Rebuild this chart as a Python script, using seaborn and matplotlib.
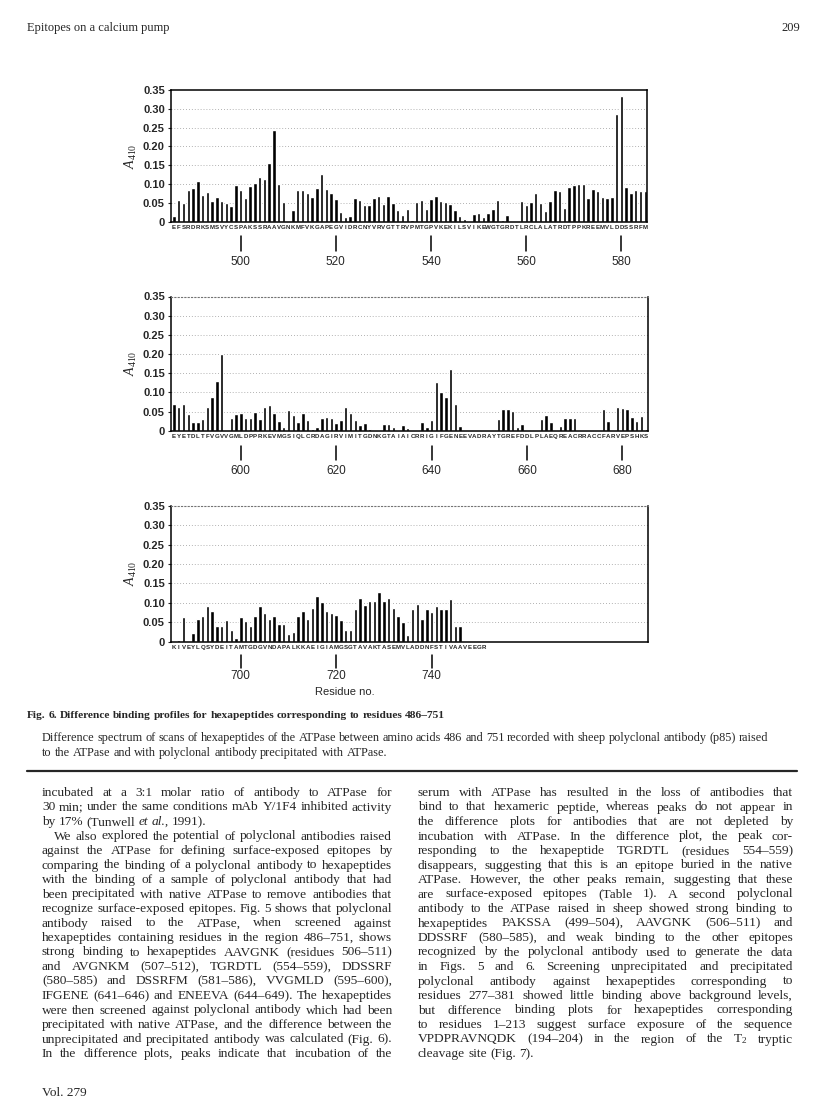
import numpy as np
import pandas as pd
import seaborn as sns
import matplotlib.pyplot as plt
import matplotlib.transforms as mtransforms

W, H = 816, 1108

# Sequence letters printed under each panel (one per hexapeptide start)
seq1 = "EFSRDRKSMSVYCSPAKSSRAAVGNKMFVKGAPEGVIDRCNYVRVGTTRVPMTGPVKEKILSVIKEWGTGRDTLRCLALATRDTPPKREEMVLDDSSRFM"
seq2 = "EYETDLTFVGVVGMLDPPRKEVMGSIQLCRDAGIRVIMITGDNKGTAIAICRRIGIFGENEEVADRAYTGREFDDLPLAEQREACRRACCFARVEPSHKS"
seq3 = "KIVEYLQSYDEITAMTGDGVNDAPALKKAEIGIAMGSGTAVAKTASEMVLADDNFSTIVAAVEEGR"
start1, start2, start3 = 486, 586, 686

# Difference A410 for each hexapeptide
a410_1 = [0.015, 0.058, 0.049, 0.085, 0.090, 0.108, 0.072, 0.078, 0.054, 0.065,
          0.055, 0.050, 0.042, 0.098, 0.085, 0.064, 0.095, 0.102, 0.118, 0.113,
          0.157, 0.243, 0.100, 0.053, 0.003, 0.030, 0.085, 0.083, 0.076, 0.065,
          0.089, 0.126, 0.086, 0.075, 0.059, 0.027, 0.012, 0.015, 0.064, 0.058,
          0.044, 0.044, 0.063, 0.068, 0.047, 0.068, 0.051, 0.030, 0.017, 0.033,
          0.005, 0.052, 0.057, 0.033, 0.059, 0.068, 0.056, 0.053, 0.047, 0.030,
          0.015, 0.006, 0.002, 0.021, 0.023, 0.012, 0.023, 0.035, 0.057, 0.004,
          0.019, 0.0, 0.0, 0.054, 0.045, 0.053, 0.075, 0.049, 0.029, 0.056,
          0.084, 0.081, 0.036, 0.093, 0.097, 0.101, 0.099, 0.063, 0.086, 0.082,
          0.066, 0.062, 0.066, 0.285, 0.334, 0.091, 0.077, 0.084, 0.081, 0.081]
a410_2 = [0.069, 0.063, 0.070, 0.043, 0.023, 0.023, 0.031, 0.062, 0.089, 0.129,
          0.201, 0.002, 0.032, 0.044, 0.046, 0.034, 0.034, 0.050, 0.030, 0.063,
          0.067, 0.045, 0.024, 0.010, 0.053, 0.042, 0.022, 0.045, 0.027, 0.004,
          0.010, 0.032, 0.036, 0.032, 0.021, 0.027, 0.063, 0.045, 0.028, 0.015,
          0.019, 0.004, 0.0, 0.0, 0.017, 0.017, 0.010, 0.002, 0.015, 0.008,
          0.0, 0.002, 0.023, 0.010, 0.028, 0.126, 0.102, 0.088, 0.161, 0.070,
          0.012, 0.003, 0.0, 0.0, 0.0, 0.0, 0.0, 0.002, 0.030, 0.057,
          0.057, 0.052, 0.010, 0.017, 0.002, 0.002, 0.0, 0.030, 0.041, 0.022,
          0.001, 0.013, 0.034, 0.032, 0.032, 0.0, 0.0, 0.0, 0.0, 0.0,
          0.056, 0.026, 0.0, 0.061, 0.058, 0.056, 0.036, 0.025, 0.038, 0.005]
a410_3 = [0.0, 0.004, 0.063, 0.003, 0.022, 0.058, 0.067, 0.091, 0.079, 0.041,
          0.041, 0.056, 0.029, 0.010, 0.064, 0.053, 0.041, 0.066, 0.091, 0.073,
          0.059, 0.067, 0.046, 0.046, 0.020, 0.025, 0.066, 0.079, 0.059, 0.088,
          0.117, 0.102, 0.078, 0.073, 0.069, 0.057, 0.030, 0.030, 0.085, 0.112,
          0.094, 0.105, 0.104, 0.128, 0.104, 0.113, 0.087, 0.067, 0.050, 0.017,
          0.083, 0.097, 0.058, 0.083, 0.077, 0.091, 0.083, 0.083, 0.109, 0.041,
          0.041]

ticks1 = [500, 520, 540, 560, 580]
ticks2 = [600, 620, 640, 660, 680]
ticks3 = [700, 720, 740]
yticks = [0, 0.05, 0.10, 0.15, 0.20, 0.25, 0.30, 0.35]
ytick_labels = ["0", "0.05", "0.10", "0.15", "0.20", "0.25", "0.30", "0.35"]

header = "Epitopes on a calcium pump"
page_no = "209"
fig_title = "Fig. 6. Difference binding profiles for hexapeptides corresponding to residues 486\u2013751"
fig_legend = ["Difference spectrum of scans of hexapeptides of the ATPase between amino acids 486 and 751 recorded with sheep polyclonal antibody (p85) raised",
              "to the ATPase and with polyclonal antibody precipitated with ATPase."]
footer = "Vol. 279"

# body text, (line, justified)
left_col = [
    ("incubated at a 3:1 molar ratio of antibody to ATPase for", True),
    ("30 min; under the same conditions mAb Y/1F4 inhibited activity", True),
    ("by 17% (Tunwell *et *al., 1991).", False),
    ("We also explored the potential of polyclonal antibodies raised", True),
    ("against the ATPase for defining surface-exposed epitopes by", True),
    ("comparing the binding of a polyclonal antibody to hexapeptides", True),
    ("with the binding of a sample of polyclonal antibody that had", True),
    ("been precipitated with native ATPase to remove antibodies that", True),
    ("recognize surface-exposed epitopes. Fig. 5 shows that polyclonal", True),
    ("antibody raised to the ATPase, when screened against", True),
    ("hexapeptides containing residues in the region 486\u2013751, shows", True),
    ("strong binding to hexapeptides AAVGNK (residues 506\u2013511)", True),
    ("and AVGNKM (507\u2013512), TGRDTL (554\u2013559), DDSSRF", True),
    ("(580\u2013585) and DSSRFM (581\u2013586), VVGMLD (595\u2013600),", True),
    ("IFGENE (641\u2013646) and ENEEVA (644\u2013649). The hexapeptides", True),
    ("were then screened against polyclonal antibody which had been", True),
    ("precipitated with native ATPase, and the difference between the", True),
    ("unprecipitated and precipitated antibody was calculated (Fig. 6).", True),
    ("In the difference plots, peaks indicate that incubation of the", True),
]
right_col = [
    ("serum with ATPase has resulted in the loss of antibodies that", True),
    ("bind to that hexameric peptide, whereas peaks do not appear in", True),
    ("the difference plots for antibodies that are not depleted by", True),
    ("incubation with ATPase. In the difference plot, the peak cor-", True),
    ("responding to the hexapeptide TGRDTL (residues 554\u2013559)", True),
    ("disappears, suggesting that this is an epitope buried in the native", True),
    ("ATPase. However, the other peaks remain, suggesting that these", True),
    ("are surface-exposed epitopes (Table 1). A second polyclonal", True),
    ("antibody to the ATPase raised in sheep showed strong binding to", True),
    ("hexapeptides PAKSSA (499\u2013504), AAVGNK (506\u2013511) and", True),
    ("DDSSRF (580\u2013585), and weak binding to the other epitopes", True),
    ("recognized by the polyclonal antibody used to generate the data", True),
    ("in Figs. 5 and 6. Screening unprecipitated and precipitated", True),
    ("polyclonal antibody against hexapeptides corresponding to", True),
    ("residues 277\u2013381 showed little binding above background levels,", True),
    ("but difference binding plots for hexapeptides corresponding", True),
    ("to residues 1\u2013213 suggest surface exposure of the sequence", True),
    ("VPDPRAVNQDK (194\u2013204) in the region of the T$_2$ tryptic", True),
    ("cleavage site (Fig. 7).", False),
]

sns.set_style("white")
plt.rcParams["font.family"] = ["Liberation Sans", "DejaVu Sans"]
plt.rcParams["mathtext.fontset"] = "custom"
plt.rcParams["mathtext.rm"] = "Liberation Serif"
plt.rcParams["mathtext.it"] = "Liberation Serif:italic"
serif = ["Liberation Serif", "DejaVu Serif"]

fig = plt.figure(figsize=(W / 100, H / 100), dpi=100)
fig.patch.set_facecolor("white")
R = fig.canvas.get_renderer()
ident = mtransforms.IdentityTransform()


def px_axes(left, right, top, bottom):
    return fig.add_axes([left / W, 1 - bottom / H, (right - left) / W, (bottom - top) / H])


# seq, first residue, values, number ticks, box (px), tick/label offsets (px below axis), dotted top?
panels = [
    (seq1, start1, a410_1, ticks1, (171, 647, 90, 221.7), (14, 29, 34), False),
    (seq2, start2, a410_2, ticks2, (171, 648, 296.5, 430.7), (15, 29, 34), True),
    (seq3, start3, a410_3, ticks3, (171, 648, 505.7, 641.7), (13, 26, 28), True),
]

for seq, start, vals, ticks, box, offs, dotted_top in panels:
    ax = px_axes(*box)
    df = pd.DataFrame({"residue": start + np.arange(len(vals)), "A410": vals})
    sns.barplot(data=df, x="residue", y="A410", native_scale=True, color="black",
                saturation=1, width=0.72, errorbar=None, ax=ax)
    ax.set_xlim(start - 0.63, start + 99.37)
    ax.set_ylim(0, 0.35)
    for y in yticks[1:-1]:
        ax.axhline(y, color="0.6", lw=0.6, ls=(0, (1, 2.5)), zorder=0)
    ax.set_yticks(yticks, ytick_labels)
    ax.tick_params(axis="y", left=True, length=2.5, width=0.8, labelsize=8, pad=2)
    for lab in ax.get_yticklabels():
        lab.set_fontweight("bold")
    ax.set_xticks(start + np.arange(len(seq)), list(seq))
    ax.tick_params(axis="x", length=0, pad=2.5, labelsize=4.4)
    for lab in ax.get_xticklabels():
        lab.set_fontweight("bold")
    for sp in ax.spines.values():
        sp.set_color("black")
        sp.set_linewidth(1.1)
    if dotted_top:
        ax.spines["top"].set_color("0.45")
        ax.spines["top"].set_linestyle((0, (1, 2)))
        ax.spines["top"].set_linewidth(0.8)
    ax.set_xlabel("")
    ax.set_ylabel(r"$A_{410}$", fontsize=10)
    ax.yaxis.set_label_coords(-32 / (box[1] - box[0]), 0.5)

    # residue number marks under the sequence
    trans = mtransforms.blended_transform_factory(ax.transData, ax.transAxes)
    h = box[3] - box[2]
    for r in ticks:
        ax.plot([r, r], [-offs[0] / h, -offs[1] / h], transform=trans, color="black", lw=1.1, clip_on=False)
        ax.text(r, -offs[2] / h, str(r), transform=trans, ha="center", va="top", fontsize=8.5)

fig.text(345 / W, 1 - 692 / H, "Residue no.", ha="center", va="center", fontsize=8)


def make_words(line, size, weight="normal"):
    arts = []
    for w in line.split(" "):
        style = "italic" if w.startswith("*") else "normal"
        t = fig.text(0, 0, w.lstrip("*"), transform=ident, fontsize=size, family=serif,
                     style=style, weight=weight, va="baseline")
        arts.append(t)
    return arts


def set_line(arts, x0, base, size, width=None):
    for t in arts:
        t.set_fontsize(size)
    ws = [t.get_window_extent(R).width for t in arts]
    gap = 0.25 * size * 100 / 72
    if width is not None and len(arts) > 1:
        gap = (width - sum(ws)) / (len(arts) - 1)
    x = x0
    for t, w in zip(arts, ws):
        t.set_position((x, H - base))
        x += w + gap


def natural(arts, size):
    for t in arts:
        t.set_fontsize(size)
    ws = [t.get_window_extent(R).width for t in arts]
    return sum(ws) + 0.25 * size * 100 / 72 * (len(arts) - 1)


# header and footer
fig.text(27 / W, 1 - 31 / H, header, family=serif, fontsize=9, va="baseline")
fig.text(800 / W, 1 - 31 / H, page_no, family=serif, fontsize=9, va="baseline", ha="right")
fig.text(42 / W, 1 - 1096 / H, footer, family=serif, fontsize=9.5, va="baseline")

# caption
cap = make_words(fig_title, 10, weight="bold")
s = 10 * 418 / natural(cap, 10)
set_line(cap, 27, 718, s)
leg1 = make_words(fig_legend[0], 10)
s = 10 * 726 / natural(leg1, 10)
set_line(leg1, 42, 741, s, width=726)
leg2 = make_words(fig_legend[1], s)
set_line(leg2, 42, 756, s)

fig.add_artist(plt.Line2D([27 / W, 797 / W], [1 - 771 / H, 1 - 771 / H], color="0.15", lw=1.6))

# two-column body text
for col, x0, x1 in [(left_col, 42, 392), (right_col, 418, 793)]:
    rows = [make_words(line, 10) for line, _ in col]
    fit = min((x1 - x0) / natural(r, 10) for r, (line, j) in zip(rows, col) if j)
    size = min(9.6, 10 * fit * 0.995)
    for i, (r, (line, j)) in enumerate(zip(rows, col)):
        indent = 12 if line.startswith("We also") else 0
        set_line(r, x0 + indent, 796 + 14.5 * i, size, width=(x1 - x0 - indent) if j else None)

fig.savefig("out.png", dpi=100, facecolor="white")
